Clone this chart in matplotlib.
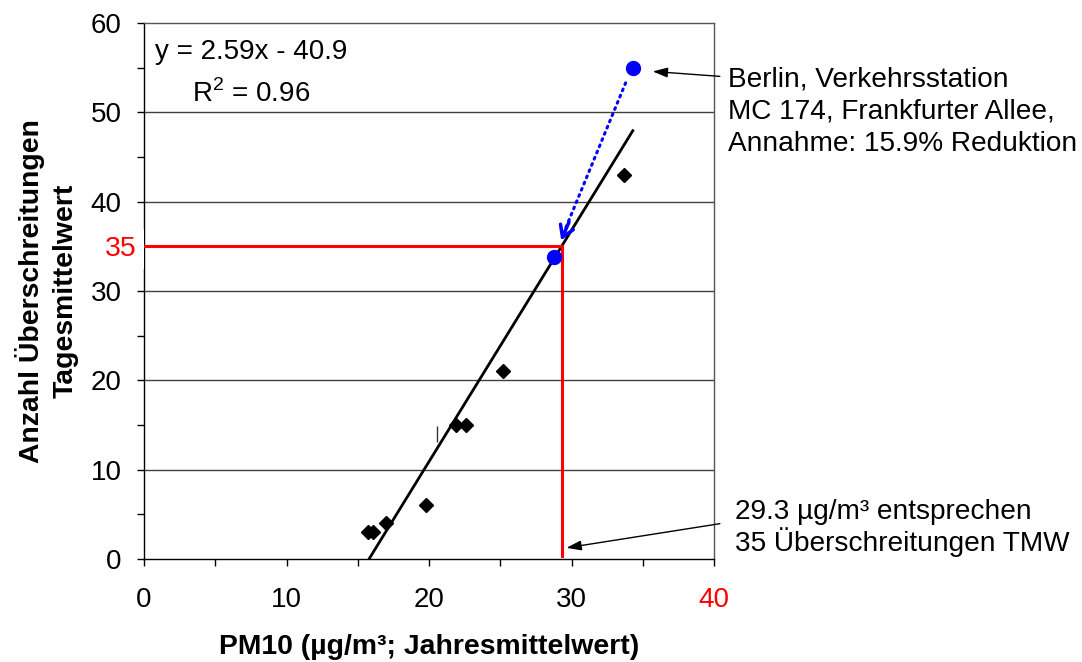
import matplotlib.pyplot as plt
from matplotlib.ticker import MultipleLocator

plt.rcParams['font.family'] = ['Liberation Sans', 'DejaVu Sans']
plt.rcParams['mathtext.fontset'] = 'custom'
plt.rcParams['mathtext.rm'] = 'Liberation Sans'

# Messstationen: PM10 Jahresmittel vs. Anzahl Ueberschreitungen
pm10 = [15.7, 16.1, 17.0, 19.8, 21.9, 22.6, 25.2, 33.7]
ueberschreitungen = [3, 3, 4, 6, 15, 15, 21, 43]

# Berlin Frankfurter Allee: gemessen und nach 15.9% Reduktion
berlin_x = [34.3, 28.8]
berlin_y = [55, 33.8]

# Regression y = 2.59x - 40.9
slope = 2.59
intercept = -40.9
fit_x = [-intercept / slope, 34.3]

grenz_x = 29.3
grenz_y = 35

x_ticks = [0, 10, 20, 30, 40]
y_ticks = [0, 10, 20, 30, 40, 50, 60]

fig = plt.figure(figsize=(10.82, 6.62), dpi=100)
ax = fig.add_axes([0.1331, 0.1556, 0.5268, 0.8097])

ax.set_xlim(0, 40)
ax.set_ylim(0, 60)

# horizontale Gitterlinien
for yv in y_ticks[1:-1]:
    ax.axhline(yv, color='#404040', lw=1, zorder=1)

# Regressionsgerade
fit_y = [slope * v + intercept for v in fit_x]
ax.plot(fit_x, fit_y, color='black', lw=2, zorder=3)

# rote Hilfslinien bei 35 Ueberschreitungen
ax.plot([0, grenz_x], [grenz_y, grenz_y], color='red', lw=2.2, zorder=3)
ax.plot([grenz_x, grenz_x], [grenz_y, 0.35], color='red', lw=2.2, zorder=3)

ax.plot(pm10, ueberschreitungen, linestyle='none', marker='D', ms=7.5,
        color='black', zorder=4)
ax.plot([20.54], [14.0], linestyle='none', marker='|', ms=11, mew=1,
        color='#333333', zorder=4)

ax.plot(berlin_x, berlin_y, linestyle='none', marker='o', ms=10,
        color='#0000ff', zorder=5)

# blauer gepunkteter Pfeil
ax.plot([33.8, 29.4], [53.3, 36.3], color='#0000ff', lw=2.2,
        linestyle=(0, (0.6, 1.6)), dash_capstyle='round', zorder=4)
ax.annotate('', xy=(29.2, 35.4), xytext=(29.9, 38.0),
            arrowprops=dict(arrowstyle='->,head_length=0.8,head_width=0.5',
                            color='#0000ff', lw=2.5), zorder=6)

ax.text(0.8, 56.7, 'y = 2.59x - 40.9', fontsize=20, va='center', ha='left')
ax.text(3.4, 52.1, 'R$^{2}$ = 0.96', fontsize=20, va='center', ha='left')

# Anmerkungen rechts
ax.annotate('', xy=(35.5, 54.6), xytext=(40.6, 54.0),
            arrowprops=dict(arrowstyle='-|>,head_length=0.9,head_width=0.3',
                            color='black', lw=1),
            annotation_clip=False)
ax.text(41.0, 50.1, 'Berlin, Verkehrsstation\nMC 174, Frankfurter Allee,\nAnnahme: 15.9% Reduktion',
        fontsize=20.2, va='center', ha='left', linespacing=1.31, clip_on=False)

ax.annotate('', xy=(29.45, 1.2), xytext=(40.6, 4.0),
            arrowprops=dict(arrowstyle='-|>,head_length=0.9,head_width=0.3',
                            color='black', lw=1),
            annotation_clip=False)
ax.text(41.45, 3.5, '29.3 µg/m³ entsprechen\n35 Überschreitungen TMW',
        fontsize=20.2, va='center', ha='left', linespacing=1.08, clip_on=False)

# rote 35 an der y-Achse
ax.text(-0.5, grenz_y - 0.3, '35', color='red', fontsize=20.5, ha='right', va='center',
        bbox=dict(facecolor='white', edgecolor='none', pad=5), clip_on=False, zorder=6)

ax.set_xticks(x_ticks)
ax.set_yticks(y_ticks)
ax.xaxis.set_minor_locator(MultipleLocator(5))
ax.yaxis.set_minor_locator(MultipleLocator(5))
ax.tick_params(axis='both', which='both', direction='out', length=5, width=1,
               labelsize=20)
ax.tick_params(axis='x', which='major', pad=15)
ax.tick_params(axis='y', which='major', pad=11)
ax.tick_params(top=False, right=False)
ax.get_xticklabels()[-1].set_color('red')

for side in ['top', 'right']:
    ax.spines[side].set_color('#555555')
    ax.spines[side].set_linewidth(1)
for side in ['left', 'bottom']:
    ax.spines[side].set_linewidth(1)

ax.set_xlabel('PM10 (µg/m³; Jahresmittelwert)', fontsize=20.4, fontweight='bold',
              labelpad=15)
ax.set_ylabel('Anzahl Überschreitungen\nTagesmittelwert', fontsize=20.4,
              fontweight='bold', labelpad=9, linespacing=1.35)

fig.savefig('out.png', dpi=100)
